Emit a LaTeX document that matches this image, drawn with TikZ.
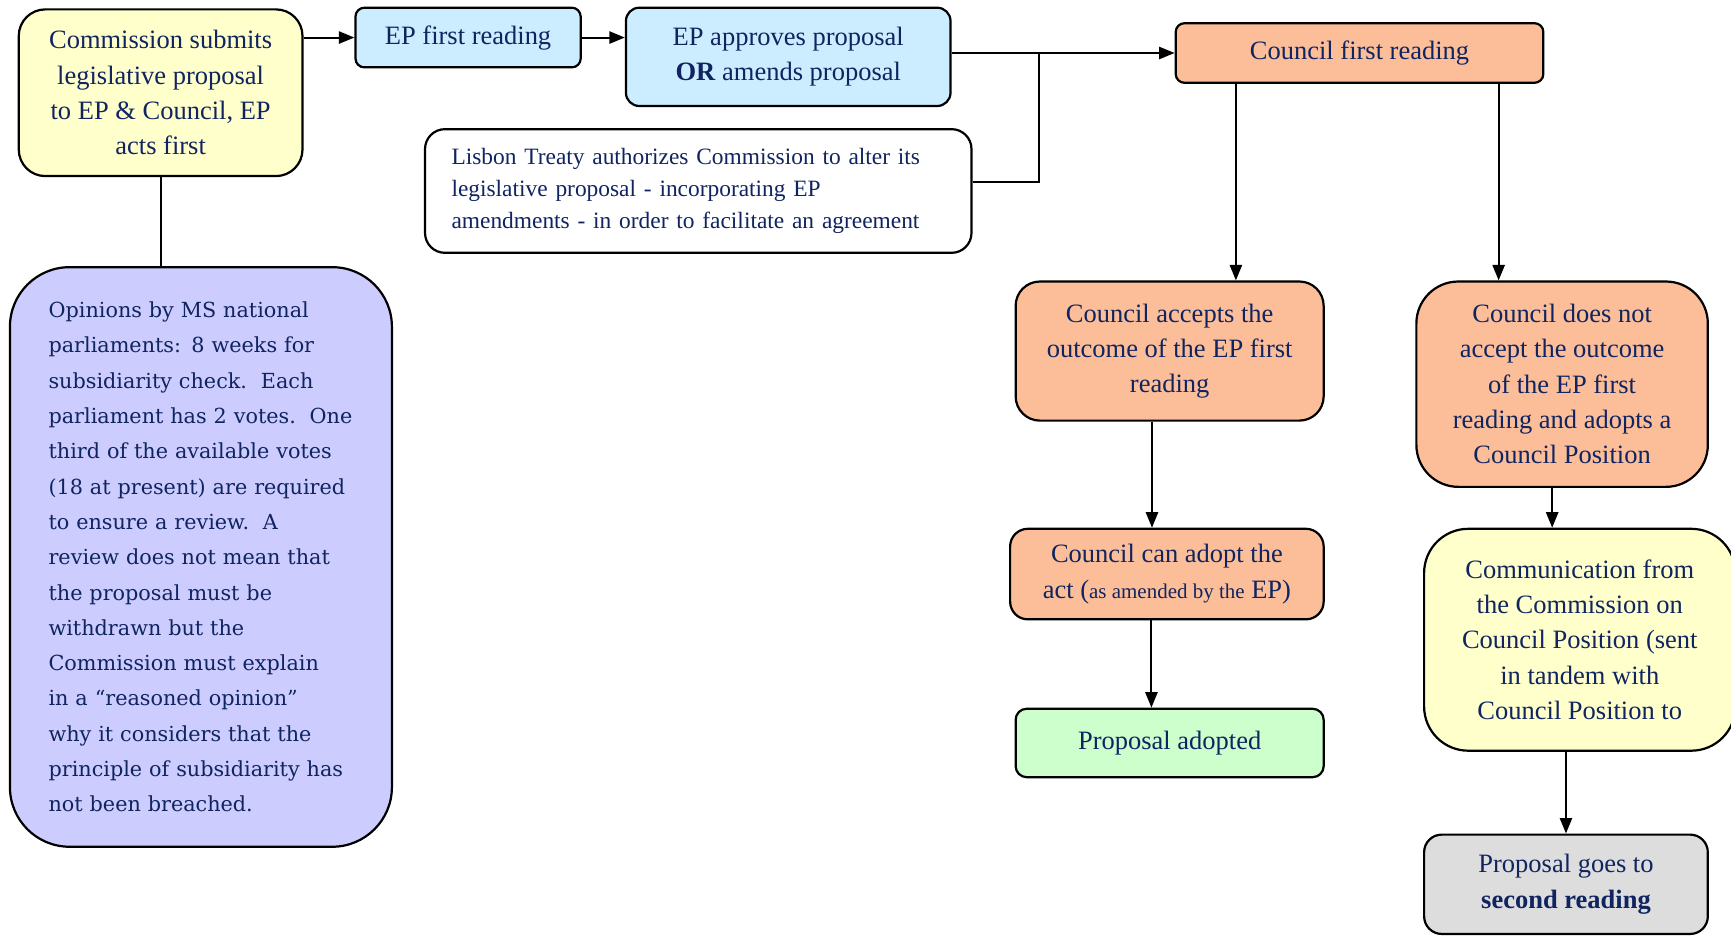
\documentclass[tikz,border=0pt]{standalone}
\usepackage{fontspec}
\setmainfont{Liberation Serif}
\newfontfamily\schoolfont{DejaVu Serif}
\usetikzlibrary{arrows.meta,positioning}

\definecolor{navytext}{RGB}{16,36,96}
\definecolor{paleyellow}{RGB}{255,255,204}
\definecolor{paleblue}{RGB}{204,236,255}
\definecolor{councilorange}{RGB}{252,190,153}
\definecolor{palegreen}{RGB}{204,255,204}
\definecolor{palegrey}{RGB}{221,221,221}
\definecolor{lavender}{RGB}{204,204,255}

\begin{document}
\begin{tikzpicture}[x=0.5pt,y=-0.5pt,
					stepnode/.style={rectangle,
					draw=black,
					line width=1pt,
					text=navytext,
					align=center,
					inner sep=0pt,
					font=\fontsize{12}{16}\selectfont},
					yellownode/.style={stepnode, fill=paleyellow},
					bluenode/.style={stepnode, fill=paleblue},
					councilnode/.style={stepnode, fill=councilorange},
					flow/.style={line width=0.9pt, -{Triangle[length=7pt,width=5.5pt]}},
					link/.style={line width=0.9pt}
					]

% picture size, the yellow box on the right runs over the edge
\useasboundingbox (0,0) rectangle (1568,847);
\clip (0,0) rectangle (1568,847);

%EP nodes
\node[yellownode, minimum width=128.5pt, minimum height=75.5pt, rounded corners=12pt] (comm) at (145.5,84)
	{Commission submits\\legislative proposal\\to EP \& Council, EP\\acts first};
\node[bluenode, minimum width=102pt, minimum height=27pt, rounded corners=4pt] (epread) at (424,34) {EP first reading};
\node[bluenode, minimum width=147pt, minimum height=44.5pt, rounded corners=6pt] (epapp) at (714,51.5)
	{EP approves proposal\\\textbf{OR} amends proposal};
\node[stepnode, fill=white, align=left, text width=223.5pt, inner xsep=12pt, minimum height=56pt,
	rounded corners=9pt, font=\fontsize{10.6}{14.5}\selectfont] (lisbon) at (632.5,173)
	{Lisbon Treaty authorizes Commission to alter its\\legislative proposal - incorporating EP\\amendments - in order to facilitate an agreement};

%national parliaments
\node[stepnode, fill=lavender, align=left, text width=138pt, inner xsep=17.5pt, minimum height=262.5pt,
	rounded corners=27pt, font=\schoolfont\fontsize{9.4}{16}\selectfont] (parl) at (182,504.5)
	{Opinions by MS national\\parliaments: 8 weeks for\\subsidiarity check.\ \ Each\\parliament has 2 votes.\ \ One\\third of the available votes\\(18 at present) are required\\to ensure a review.\ \ A\\review does not mean that\\the proposal must be\\withdrawn but the\\Commission must explain\\in a “reasoned opinion”\\why it considers that the\\principle of subsidiarity has\\not been breached.};

%Council nodes
\node[councilnode, minimum width=166.5pt, minimum height=27pt, rounded corners=4pt] (cfirst) at (1231.5,48) {Council first reading};
\node[councilnode, minimum width=139.5pt, minimum height=63pt, rounded corners=11pt] (caccept) at (1059.5,318)
	{Council accepts the\\outcome of the EP first\\reading};
\node[councilnode, minimum width=132pt, minimum height=93pt, rounded corners=19pt] (cnot) at (1415,348)
	{Council does not\\accept the outcome\\of the EP first\\reading and adopts a\\Council Position};
\node[councilnode, minimum width=142pt, minimum height=41pt, rounded corners=8pt] (cadopt) at (1057,520)
	{Council can adopt the\\act ({\fontsize{9.5}{16}\selectfont as amended by the} EP)};
\node[stepnode, fill=palegreen, minimum width=139.5pt, minimum height=31pt, rounded corners=5pt] (padopt) at (1059.5,673)
	{Proposal adopted};
\node[yellownode, minimum width=141pt, minimum height=100.5pt, rounded corners=20pt] (comm2) at (1431,579.5)
	{Communication from\\the Commission on\\Council Position (sent\\in tandem with\\Council Position to};
\node[stepnode, fill=palegrey, minimum width=128.5pt, minimum height=45pt, rounded corners=8pt] (psecond) at (1418.5,801)
	{Proposal goes to\\\textbf{second reading}};

%paths EP
\draw[flow] (comm.east |- epread.west) -- (epread.west);
\draw[flow] (epread.east) -- (epread.east -| epapp.west);
\draw[flow] (epapp.east |- cfirst.west) -- coordinate[pos=0.39](joint) (cfirst.west);
\draw[link] ([yshift=4pt]lisbon.east) -| (joint);
\draw[link] (comm.south) -- (comm.south |- parl.north);

%paths Council
\coordinate (cfL) at ([xshift=-56pt]cfirst.south);
\coordinate (cfR) at ([xshift=63pt]cfirst.south);
\draw[flow] (cfL) -- (cfL |- caccept.north);
\draw[flow] (cfR) -- (cfR |- cnot.north);
\coordinate (caS) at ([xshift=-8pt]caccept.south);
\draw[flow] (caS) -- (caS |- cadopt.north);
\coordinate (cdS) at ([xshift=-7pt]cadopt.south);
\draw[flow] (cdS) -- (cdS |- padopt.north);
\coordinate (cnS) at ([xshift=-4.5pt]cnot.south);
\draw[flow] (cnS) -- (cnS |- comm2.north);
\draw[flow] (psecond.north |- comm2.south) -- (psecond.north);
\end{tikzpicture}
\end{document}
